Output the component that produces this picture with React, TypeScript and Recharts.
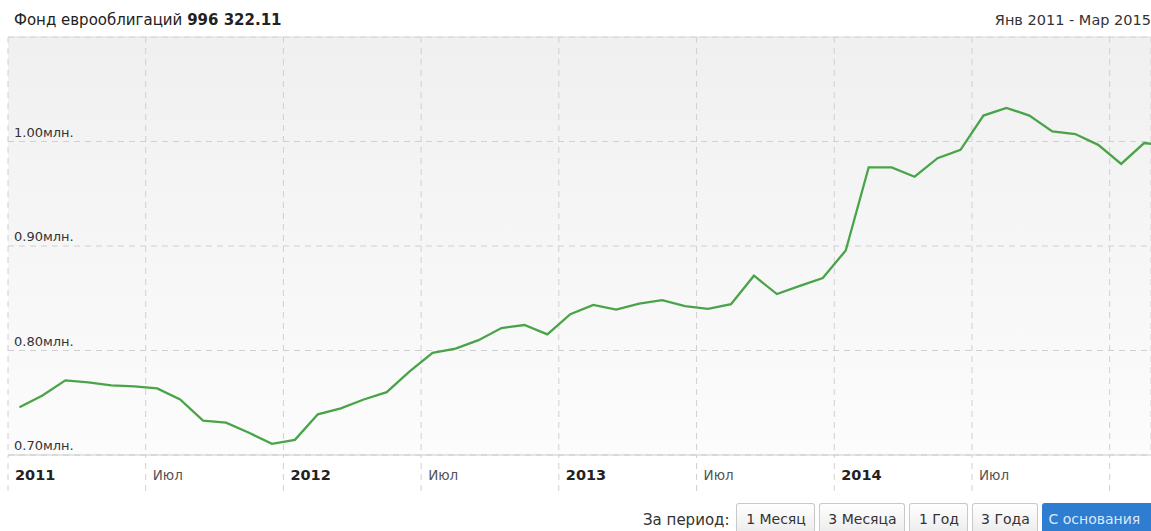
import React from "react";
import {
  LineChart,
  Line,
  XAxis,
  YAxis,
  CartesianGrid,
  ReferenceLine,
} from "recharts";

// monthly fund value, Jan 2011 .. Mar 2015 (mln)
const monthValues = [
  0.7457, 0.7569, 0.7714, 0.7695, 0.7666, 0.7656, 0.7637, 0.7531, 0.7329, 0.7309,
  0.7213, 0.7107, 0.7145, 0.7389, 0.7447, 0.7531, 0.7601, 0.7801, 0.7977, 0.8019,
  0.8099, 0.8215, 0.8244, 0.8154, 0.8347, 0.8436, 0.8391, 0.8449, 0.8482, 0.8424,
  0.8398, 0.8443, 0.8716, 0.854, 0.8619, 0.8694, 0.8957, 0.9753, 0.9753, 0.9663,
  0.984, 0.992, 1.0248, 1.0322, 1.0248, 1.0096, 1.0071, 0.9968, 0.9785, 0.9985,
  0.9963,
];

const xTicks = [0, 6, 12, 18, 24, 30, 36, 42, 48];
const xTickLabels = ["2011", "Июл", "2012", "Июл", "2013", "Июл", "2014", "Июл", ""];
const yTicks = [0.7, 0.8, 0.9, 1.0];
const periods = ["1 Месяц", "3 Месяца", "1 Год", "3 Года", "С основания"];
const periodWidths = [79, 86, 59, 66, 120];

const FONT = "'DejaVu Sans', Verdana, sans-serif";

const chartData = monthValues.map((v, i) => ({ m: i + 0.5, v }));

function XTick(props: any) {
  const { x, y, payload } = props;
  const idx = xTicks.indexOf(payload.value);
  const label = xTickLabels[idx] ?? "";
  const isYear = /^\d+$/.test(label);
  return (
    <text
      x={x + 7}
      y={y - 11}
      textAnchor="start"
      fontFamily={FONT}
      fontSize={isYear ? 14.5 : 13.5}
      fontWeight={isYear ? 700 : 400}
      fill={isYear ? "#222" : "#555"}
    >
      {label}
    </text>
  );
}

function YTick(props: any) {
  const { x, y, payload } = props;
  return (
    <text x={x + 6} y={y - 5} textAnchor="start" fontFamily={FONT} fontSize={13} fill="#333">
      {Number(payload.value).toFixed(2)}млн.
    </text>
  );
}

export default function App() {
  return (
    <div style={{ position: "relative", width: 1151, height: 531, overflow: "hidden", background: "#fff" }}>
      <style>{`body{margin:0}`}</style>

      {/* Header */}
      <div
        style={{
          position: "absolute",
          left: 14,
          top: 12,
          fontFamily: FONT,
          fontSize: 15,
          lineHeight: "17px",
          color: "#222",
          whiteSpace: "nowrap",
        }}
      >
        Фонд еврооблигаций <b>996 322.11</b>
      </div>
      <div
        style={{
          position: "absolute",
          right: 0,
          top: 12,
          fontFamily: FONT,
          fontSize: 14.5,
          lineHeight: "17px",
          color: "#333",
          whiteSpace: "nowrap",
        }}
      >
        Янв 2011 - Мар 2015
      </div>

      {/* Chart */}
      <div style={{ position: "absolute", left: 0, top: 0 }}>
        <LineChart
          width={1151}
          height={531}
          data={chartData}
          margin={{ top: 37, right: 0, left: 8, bottom: 36 }}
        >
          <defs>
            <linearGradient id="plotBg" x1="0" y1="0" x2="0" y2="1">
              <stop offset="0%" stopColor="#f0f0f0" />
              <stop offset="100%" stopColor="#fcfcfc" />
            </linearGradient>
          </defs>
          <CartesianGrid
            fill="url(#plotBg)"
            stroke="#d0d0d0"
            strokeDasharray="6 5"
          />
          <XAxis
            dataKey="m"
            type="number"
            domain={[0, 49.8]}
            ticks={xTicks}
            interval={0}
            allowDataOverflow
            height={40}
            tickSize={36}
            tickMargin={0}
            tickLine={{ stroke: "#d0d0d0", strokeDasharray: "6 5" }}
            axisLine={{ stroke: "#cccccc" }}
            tick={(p: any) => <XTick {...p} />}
          />
          <YAxis
            type="number"
            domain={[0.7, 1.1]}
            ticks={yTicks}
            interval={0}
            mirror
            width={60}
            tickSize={0}
            tickMargin={0}
            tickLine={false}
            axisLine={false}
            tick={(p: any) => <YTick {...p} />}
          />
          <ReferenceLine y={1.1} stroke="#dcdcdc" />
          <Line
            type="linear"
            dataKey="v"
            stroke="#49a449"
            strokeWidth={2.3}
            dot={false}
            isAnimationActive={false}
          />
        </LineChart>
      </div>

      {/* Period selector */}
      <div
        style={{
          position: "absolute",
          left: 643,
          top: 503,
          display: "flex",
          alignItems: "flex-start",
          gap: 4,
          fontFamily: FONT,
          fontSize: 14,
          whiteSpace: "nowrap",
        }}
      >
        <span style={{ color: "#333", paddingTop: 8, marginRight: 3, fontSize: 15 }}>За период:</span>
        {periods.map((p, i) => {
          const active = i === periods.length - 1;
          return (
            <div
              key={p}
              style={{
                width: periodWidths[i],
                height: 30,
                boxSizing: "border-box",
                border: `1px solid ${active ? "#2f7dd1" : "#c9c9c9"}`,
                borderBottom: "none",
                borderRadius: "3px 3px 0 0",
                background: active ? "#2f7dd1" : "linear-gradient(#ffffff, #ececec)",
                color: active ? "#dce9f8" : "#333",
                paddingTop: 7,
                textAlign: active ? "left" : "center",
                paddingLeft: active ? 5 : 0,
              }}
            >
              {p}
            </div>
          );
        })}
      </div>
    </div>
  );
}
